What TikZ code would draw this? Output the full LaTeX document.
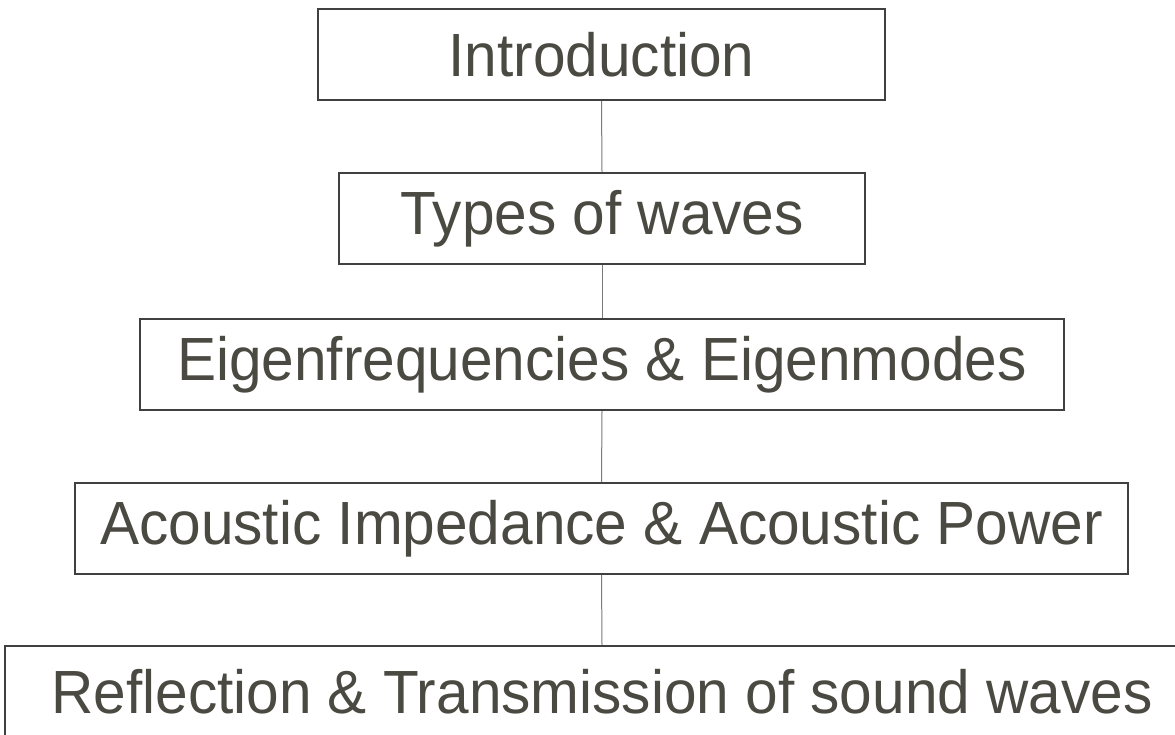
\documentclass[tikz,border=0pt]{standalone}
\usepackage{fontspec}
\setmainfont{Liberation Sans}[FakeStretch=0.96]
\definecolor{txt}{HTML}{4A4A42}
\definecolor{frame}{HTML}{404040}
\definecolor{link}{HTML}{7A7A7A}
\begin{document}
\begin{tikzpicture}[x=1pt,y=1pt,
  topic/.style={draw=frame, line width=2pt, fill=white, text=txt,
    inner sep=0pt, minimum height=91pt,
    font=\fontsize{61}{70}\selectfont},
  linkline/.style={draw=link, line width=1pt}]
  \useasboundingbox (0,0) rectangle (1175,-734);
  \clip (0,0) rectangle (1175,-734);
  % stacked topic boxes
  \node[topic, minimum width=567pt]  (intro) at (601.5,-54.5)  {Introduction};
  \node[topic, minimum width=526pt]  (types) at (602,-218.5)   {Types of waves};
  \node[topic, minimum width=924pt]  (eigen) at (602,-364.5)   {Eigenfrequencies \& Eigenmodes};
  \node[topic, minimum width=1053pt] (imped) at (601.5,-528.5) {Acoustic Impedance \& Acoustic Power};
  \node[topic, minimum width=1194pt] (refl)  at (602,-691.5)   {Reflection \& Transmission of sound waves};
  % vertical links between the boxes
  \draw[linkline] (intro.south) -- (types.north);
  \draw[linkline] (types.south) -- (eigen.north);
  \draw[linkline] (eigen.south) -- (imped.north);
  \draw[linkline] (imped.south) -- (refl.north);
\end{tikzpicture}
\end{document}
